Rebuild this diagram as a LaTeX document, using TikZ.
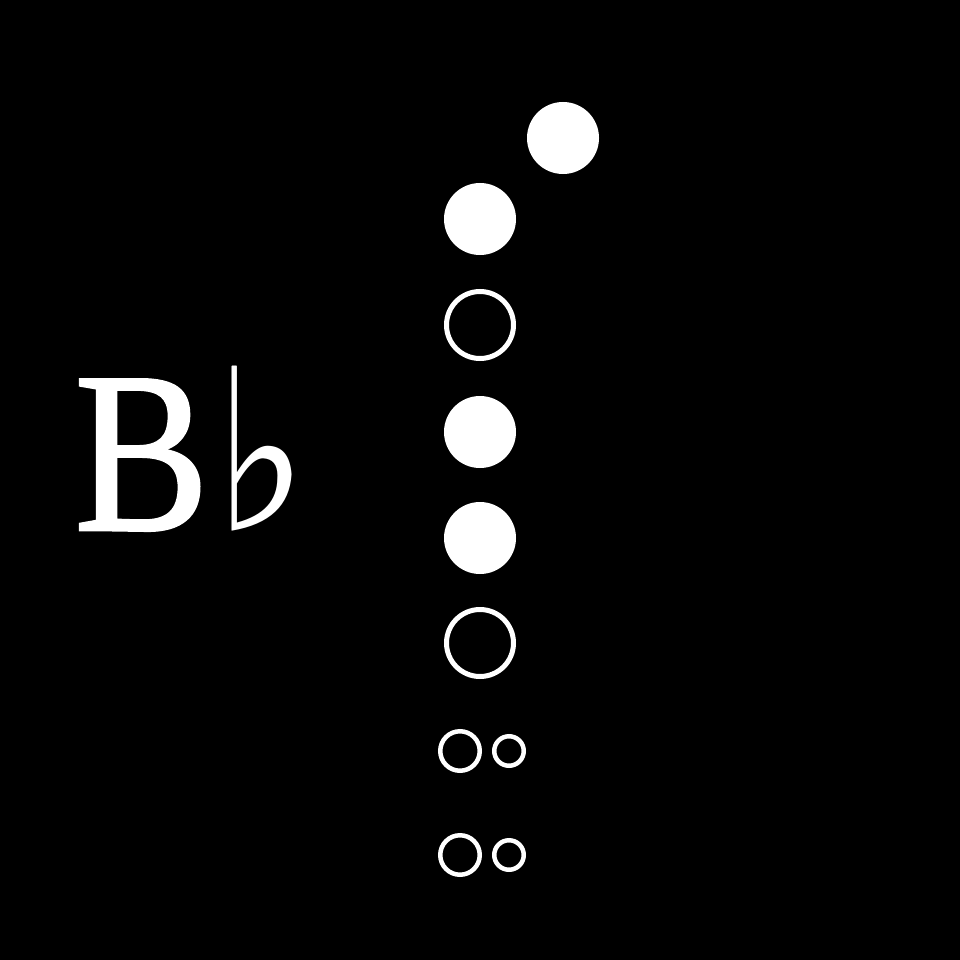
\documentclass[tikz,border=0pt]{standalone}
\usepackage{fontspec}
\setmainfont{Liberation Serif}
\newfontfamily\notefont[FakeBold=1.2]{Liberation Serif}
\newfontfamily\symfont{DejaVu Sans}
\usepackage{tikz}
\tikzset{
  x=1pt,y=-1pt,
  hole/.style={circle,draw=white,line width=5pt,minimum size=67pt,inner sep=0pt},
  shut/.style={hole,fill=white},
  tiny/.style={circle,draw=white,line width=4.5pt,inner sep=0pt},
  note/.style={text=white,inner sep=0pt,anchor=base west,font=\notefont\fontsize{230}{230}\selectfont}
}
\begin{document}
\begin{tikzpicture}
\fill[black] (0,0) rectangle (960,960);
\useasboundingbox (0,0) rectangle (960,960);
\node[note,xscale=0.88] (name) at (74,530) {B\kern6pt{\symfont\fontsize{225}{225}\selectfont ♭}};
\node[shut] (thumb) at (563,138) {};
\node[shut] (h1) at (480,219) {};
\node[hole] (h2) at (480,325) {};
\node[shut] (h3) at (480,432) {};
\node[shut] (h4) at (480,538) {};
\node[hole] (h5) at (480,643) {};
\node[tiny,minimum size=39.5pt] (h6a) at (460,751) {}; \node[tiny,minimum size=29.5pt] (h6b) at (509,751) {};
\node[tiny,minimum size=39.5pt] (h7a) at (460,855) {}; \node[tiny,minimum size=29.5pt] (h7b) at (509,855) {};
\end{tikzpicture}
\end{document}
